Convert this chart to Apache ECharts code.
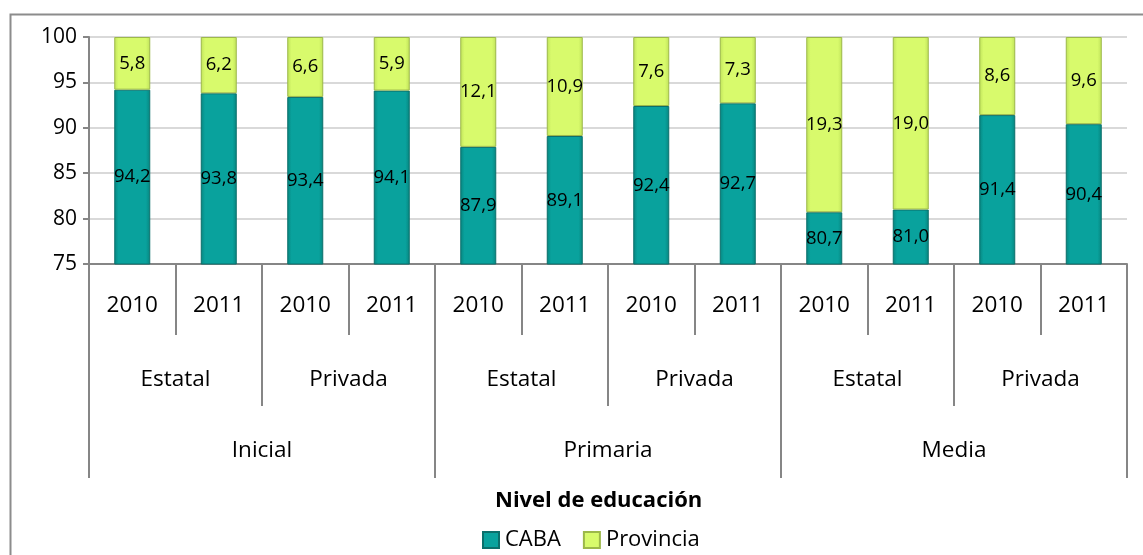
<!DOCTYPE html>
<html>
<head>
<meta charset="utf-8">
<script src="https://cdn.jsdelivr.net/npm/echarts@6/dist/echarts.min.js"></script>
<style>
html,body{margin:0;padding:0;background:#fff;}
#c{width:1143px;height:555px;}
</style>
</head>
<body>
<div id="c"></div>
<script>
const years = ['2010','2011','2010','2011','2010','2011','2010','2011','2010','2011','2010','2011'];
const sectors = ['Estatal','Privada','Estatal','Privada','Estatal','Privada'];
const levels = ['Inicial','Primaria','Media'];
const caba = [94.2,93.8,93.4,94.1,87.9,89.1,92.4,92.7,80.7,81.0,91.4,90.4];
const provincia = [5.8,6.2,6.6,5.9,12.1,10.9,7.6,7.3,19.3,19.0,8.6,9.6];
const yTicks = {min:75, max:100, interval:5};

const FONT = 'Open Sans';
const axisGrey = '#868686';
const fmt = p => p.value.toFixed(1).replace('.', ',');

const chart = echarts.init(document.getElementById('c'));
chart.setOption({
  animation: false,
  textStyle: {fontFamily: FONT, color: '#000'},
  graphic: [{
    type: 'rect', left: 8, top: 12, z: -1,
    shape: {width: 1300, height: 700},
    style: {fill: 'none', stroke: '#8c8c8c', lineWidth: 2}
  }],
  title: {
    text: 'Nivel de educación', left: 495, top: 490, padding: 0,
    textStyle: {fontFamily: FONT, fontWeight: 'bold', fontSize: 22, color: '#000'}
  },
  legend: {
    left: 482, top: 529, padding: 0, itemWidth: 16, itemHeight: 16, itemGap: 22,
    icon: 'rect',
    textStyle: {fontFamily: FONT, fontSize: 22, color: '#000', padding: [0, 0, 0, 1]},
    data: ['CABA', 'Provincia']
  },
  grid: {left: 89, right: 16, top: 37, bottom: 291, containLabel: false},
  xAxis: [
    {
      type: 'category', data: years, position: 'bottom',
      axisLine: {show: true, lineStyle: {color: axisGrey, width: 2}},
      axisTick: {show: true, interval: 0, length: 71, lineStyle: {color: axisGrey, width: 2}},
      axisLabel: {interval: 0, margin: 30, fontSize: 22.5, fontFamily: FONT, color: '#000'},
      splitLine: {show: false}
    },
    {
      type: 'category', data: sectors, position: 'bottom',
      axisLine: {show: false},
      axisTick: {show: true, interval: 0, length: 142, lineStyle: {color: axisGrey, width: 2}},
      axisLabel: {interval: 0, margin: 104, fontSize: 22.5, fontFamily: FONT, color: '#000'},
      splitLine: {show: false}
    },
    {
      type: 'category', data: levels, position: 'bottom',
      axisLine: {show: false},
      axisTick: {show: true, interval: 0, length: 214, lineStyle: {color: axisGrey, width: 2}},
      axisLabel: {interval: 0, margin: 175, fontSize: 22.5, fontFamily: FONT, color: '#000'},
      splitLine: {show: false}
    }
  ],
  yAxis: {
    type: 'value', min: yTicks.min, max: yTicks.max, interval: yTicks.interval,
    axisLine: {show: true, lineStyle: {color: axisGrey, width: 2}},
    axisTick: {show: true, length: 6, lineStyle: {color: axisGrey, width: 2}},
    axisLabel: {fontSize: 21, fontFamily: FONT, color: '#000', margin: 12},
    splitLine: {show: true, lineStyle: {color: '#d9d9d9', width: 2}}
  },
  series: [
    {
      name: 'CABA', type: 'bar', stack: 's', xAxisIndex: 0, data: caba,
      barWidth: 36,
      itemStyle: {
        color: new echarts.graphic.LinearGradient(0, 0, 1, 0, [
          {offset: 0, color: '#07857f'},
          {offset: 0.12, color: '#09a29d'},
          {offset: 0.88, color: '#09a29d'},
          {offset: 1, color: '#07857f'}
        ]),
        borderColor: '#0b6f6b', borderWidth: 1
      },
      label: {show: true, position: 'inside', formatter: fmt, fontSize: 18.5, fontFamily: FONT, color: '#000'}
    },
    {
      name: 'Provincia', type: 'bar', stack: 's', xAxisIndex: 0, data: provincia,
      barWidth: 36,
      itemStyle: {
        color: new echarts.graphic.LinearGradient(0, 0, 1, 0, [
          {offset: 0, color: '#bfe25a'},
          {offset: 0.12, color: '#d8fa6c'},
          {offset: 0.88, color: '#d8fa6c'},
          {offset: 1, color: '#bfe25a'}
        ]),
        borderColor: '#9cb84a', borderWidth: 1
      },
      label: {show: true, position: 'inside', formatter: fmt, fontSize: 18.5, fontFamily: FONT, color: '#000'}
    }
  ]
});
</script>
</body>
</html>
